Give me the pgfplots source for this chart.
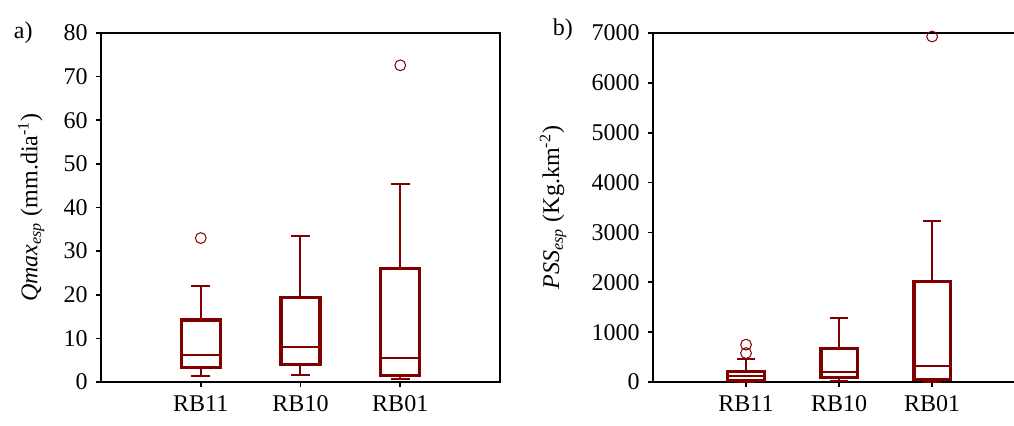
\documentclass[border=0pt]{standalone}
\usepackage{fontspec}
\setmainfont{Liberation Serif}
\usepackage{pgfplots}
\pgfplotsset{compat=1.18}
\usepgfplotslibrary{statistics}
\definecolor{boxred}{RGB}{128,0,0}

\pgfplotsset{
  bxstyle/.style={
    scale only axis,
    height=174.5pt,
    axis line style={line width=1pt},
    tick style={black, line width=0.8pt},
    major tick length=2.5pt,
    tick align=outside, tick pos=left,
    xmin=0, xtick={1,2,3}, xticklabels={RB11,RB10,RB01},
    ymin=0,
    /pgf/number format/assume math mode=true,
    /pgf/number format/1000 sep={},
    clip=false,
    boxplot/draw direction=y,
    boxplot/box extend=0.39,
    boxplot/whisker extend=0.19,
    boxplot/every box/.style={line width=1.6pt},
    boxplot/every whisker/.style={line width=1pt},
    boxplot/every median/.style={line width=1pt},
  },
  bx/.style={boxred, mark=o, mark size=2.7pt, mark options={line width=0.5pt, solid}},
}

\begin{document}
\fontsize{12}{14}\selectfont
\begin{tikzpicture}
% a) Qmax
\begin{axis}[bxstyle, name=a, at={(0,0)}, anchor=south west,
  width=199.5pt, xmax=4,
  ymax=80, ytick={0,10,...,80},
  ylabel={\textit{Qmax}\textsubscript{\textit{esp}} (mm.dia\textsuperscript{-1})},
  ylabel style={at={(rel axis cs:-0.175,0.5)}, anchor=center},
]
  \addplot[bx, boxplot prepared={draw position=1,
    lower whisker=1.3, lower quartile=3.3, median=6.2,
    upper quartile=14.2, upper whisker=22.0}] coordinates {(1,33.0)};
  \addplot[bx, boxplot prepared={draw position=2,
    lower whisker=1.7, lower quartile=4.1, median=8.1,
    upper quartile=19.4, upper whisker=33.5}] coordinates {};
  \addplot[bx, boxplot prepared={draw position=3,
    lower whisker=0.8, lower quartile=1.4, median=5.6,
    upper quartile=26.0, upper whisker=45.3}] coordinates {(3,72.6)};
  \node at (rel axis cs:-0.195,1.0) {a)};
\end{axis}
% b) PSS
\begin{axis}[bxstyle, name=b, at={(276pt,0)}, anchor=south west,
  width=180.5pt, xmax=3.88,
  axis y line*=left,
  ymax=7000, ytick={0,1000,...,7000},
  ylabel={\textit{PSS}\textsubscript{\textit{esp}} (Kg.km\textsuperscript{-2})},
  ylabel style={at={(rel axis cs:-0.277,0.5)}, anchor=center},
]
  \addplot[bx, boxplot prepared={draw position=1,
    lower whisker=0, lower quartile=30, median=125,
    upper quartile=218, upper whisker=467}] coordinates {(1,580) (1,749)};
  \addplot[bx, boxplot prepared={draw position=2,
    lower whisker=30, lower quartile=97, median=191,
    upper quartile=669, upper whisker=1293}] coordinates {};
  \addplot[bx, boxplot prepared={draw position=3,
    lower whisker=0, lower quartile=50, median=312,
    upper quartile=2010, upper whisker=3239}] coordinates {(3,6930)};
  \node at (rel axis cs:-0.25,1.01) {b)};
\end{axis}
\pgfresetboundingbox
\useasboundingbox (-50.5pt,-21.5pt) rectangle (456.5pt,191pt);
\end{tikzpicture}
\end{document}
